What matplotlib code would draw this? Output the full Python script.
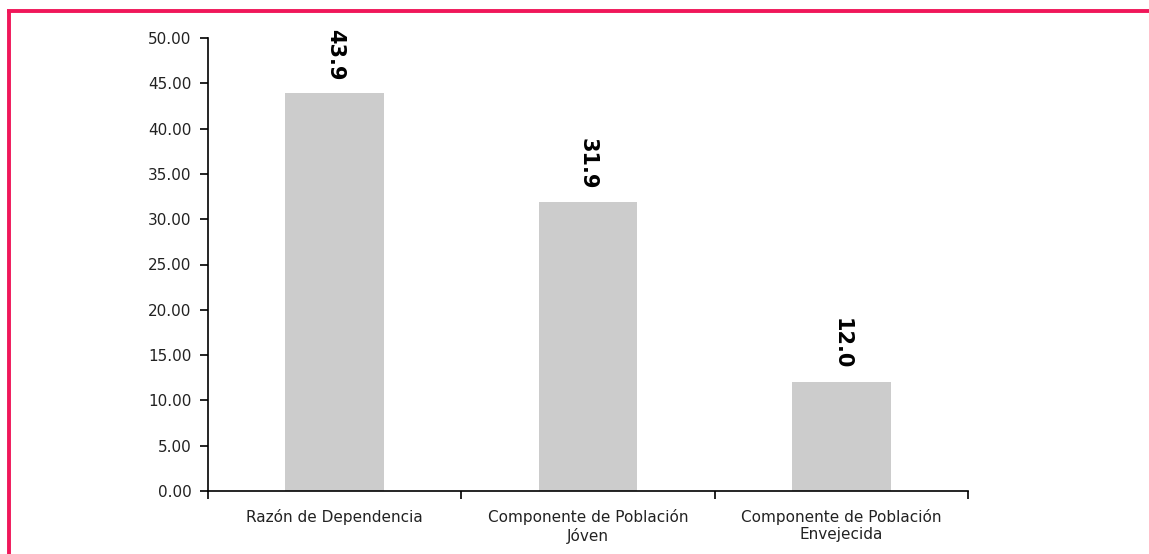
import matplotlib
matplotlib.use("Agg")
import matplotlib.pyplot as plt
from matplotlib.lines import Line2D

categories = ["Razón de Dependencia", "Componente de Población\nJóven", "Componente de Población\nEnvejecida"]
values = [43.9, 31.9, 12.0]
yticks = [0, 5, 10, 15, 20, 25, 30, 35, 40, 45, 50]

plt.rcParams['font.family'] = ['DejaVu Sans']
fig = plt.figure(figsize=(11.49, 5.54), dpi=100)
ax = fig.add_axes([208/1149, 1-491/554, (968-208)/1149, (491-38)/554])

x = list(range(len(categories)))
ax.bar(x, values, width=0.39, color="#cccccc")
for xi, v in zip(x, values):
    ax.annotate(f"{v:.1f}", (xi, v), xytext=(0, 9), textcoords="offset points",
                rotation=270, ha="center", va="bottom", fontsize=15, fontweight="bold")

ax.set_xlim(-0.5, 2.5)
ax.set_ylim(0, 50)
ax.set_yticks(yticks)
ax.set_yticklabels([f"{t:.2f}" for t in yticks], fontsize=11, color="#222222")
ax.set_xticks(x)
ax.set_xticklabels(categories, fontsize=11, color="#222222")
ax.tick_params(axis="x", which="major", length=0, pad=13)
ax.set_xticks([-0.5, 0.5, 1.5, 2.5], minor=True)
ax.tick_params(axis="x", which="minor", length=6, width=1.2, direction="out")
ax.tick_params(axis="y", length=6, width=1.2, pad=6)
for s in ["top", "right"]:
    ax.spines[s].set_visible(False)
for s in ["left", "bottom"]:
    ax.spines[s].set_linewidth(1.2)

pink = "#F0175A"
fig.add_artist(Line2D([7/1149, 1], [1-11/554, 1-11/554], transform=fig.transFigure, color=pink, linewidth=2.8, solid_capstyle="butt"))
fig.add_artist(Line2D([8.5/1149, 8.5/1149], [0, 1-9.5/554], transform=fig.transFigure, color=pink, linewidth=2.8, solid_capstyle="butt"))

fig.savefig("out.png", dpi=100)
